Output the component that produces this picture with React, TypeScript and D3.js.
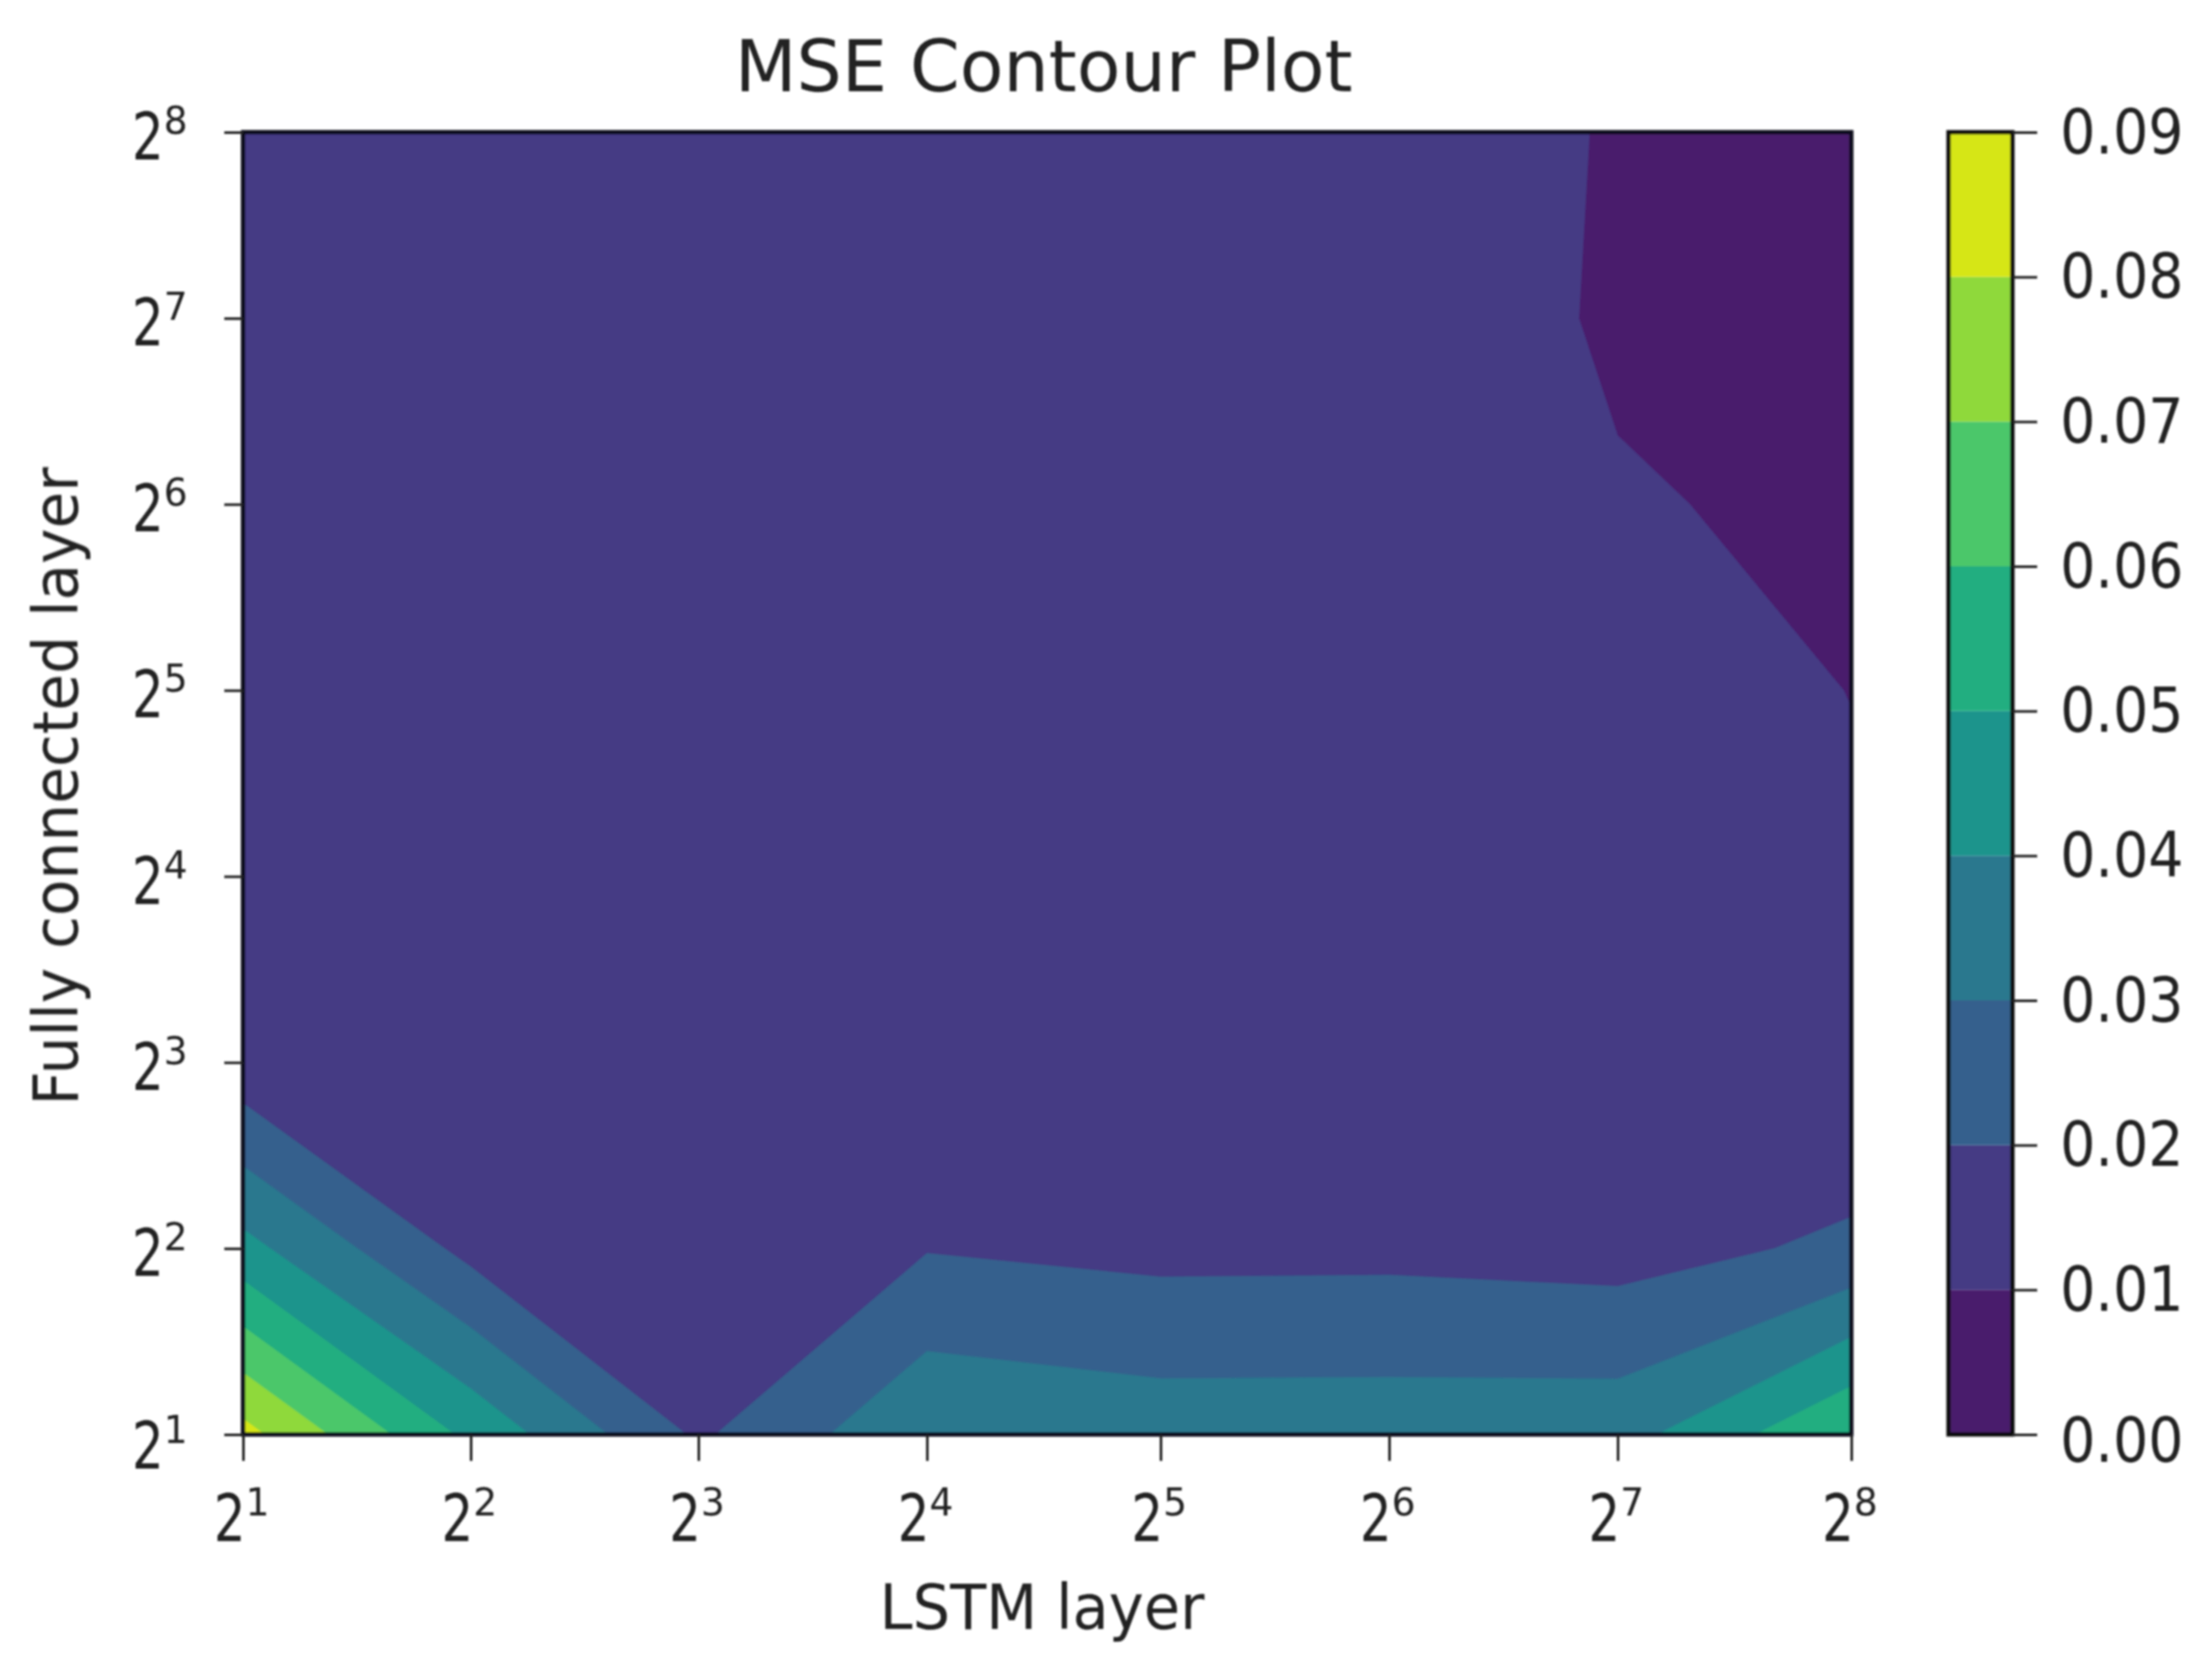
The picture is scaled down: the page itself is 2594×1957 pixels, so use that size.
import { useEffect, useRef } from 'react';
import * as d3 from 'd3';

// exponents of the 2^n ticks on both axes
const exponents = [1, 2, 3, 4, 5, 6, 7, 8];

// band edges of the contour plot and the colour of each band
const levels = [0, 0.01, 0.02, 0.03, 0.04, 0.05, 0.06, 0.07, 0.08, 0.09];
const bandColors = [
  '#481a6c', '#453a84', '#34618d', '#2a788e', '#1f948c',
  '#24ae80', '#4bc76b', '#8fd93a', '#d6e617',
];

// MSE per fully connected size (rows, 2^1 first) and LSTM size (columns)
const mseRows = [
  [0.0834, 0.0475, 0.0185, 0.0385, 0.0355, 0.0356, 0.036, 0.0598],
  [0.0431, 0.017, 0.0125, 0.0195, 0.0172, 0.0174, 0.0159, 0.022],
  [0.0135, 0.0125, 0.0122, 0.0128, 0.013, 0.0132, 0.013, 0.0102],
  [0.0128, 0.0124, 0.0122, 0.0125, 0.0128, 0.0128, 0.0124, 0.0105],
  [0.0128, 0.0125, 0.0124, 0.0126, 0.0127, 0.0126, 0.0115, 0.00995],
  [0.013, 0.0127, 0.0126, 0.0127, 0.0127, 0.0125, 0.0103, 0.00933],
  [0.013, 0.0128, 0.0127, 0.0128, 0.0127, 0.0125, 0.00949, 0.009],
  [0.0131, 0.0129, 0.0128, 0.0128, 0.0127, 0.0125, 0.00965, 0.0088],
];

const width = 2594;
const height = 1957;
const textColor = '#222';
const fontFamily = '"DejaVu Sans", sans-serif';

export default function App() {
  const svgRef = useRef<SVGSVGElement>(null);

  useEffect(() => {
    if (!svgRef.current) return;

    const svg = d3.select(svgRef.current);
    svg.selectAll('*').remove();

    const xScale = d3.scaleLinear()
      .domain(exponents)
      .range([285, 552, 819, 1087, 1361, 1629, 1897, 2171]);

    const yScale = d3.scaleLinear()
      .domain([1, 8])
      .range([1682, 155]);

    const barScale = d3.scaleLinear()
      .domain([0, 0.09])
      .range([1682, 155]);

    const [left, right] = [xScale(1), xScale(8)];
    const [bottom, top] = [yScale(1), yScale(8)];

    const defs = svg.append('defs');

    defs.append('clipPath')
      .attr('id', 'plot-clip')
      .append('rect')
      .attr('x', left)
      .attr('y', top)
      .attr('width', right - left)
      .attr('height', bottom - top);

    // The source picture is a soft upscaled bitmap
    defs.append('filter')
      .attr('id', 'soft')
      .attr('filterUnits', 'userSpaceOnUse')
      .attr('x', 0)
      .attr('y', 0)
      .attr('width', width)
      .attr('height', height)
      .append('feGaussianBlur')
      .attr('stdDeviation', 1.3);

    const root = svg.append('g').attr('filter', 'url(#soft)');

    // Contour bands, the grid cell centres sit on the tick positions
    const contours = d3.contours()
      .size([exponents.length, mseRows.length])
      .thresholds(levels.slice(0, -1))(mseRows.flat());

    const projection = d3.geoTransform({
      point(u, v) {
        this.stream.point(xScale(u + 0.5), yScale(v + 0.5));
      },
    });

    root.append('g')
      .attr('clip-path', 'url(#plot-clip)')
      .selectAll('path')
      .data(contours)
      .join('path')
      .attr('d', d3.geoPath(projection))
      .attr('fill', (_, i) => bandColors[i])
      .attr('stroke', (_, i) => bandColors[i])
      .attr('stroke-width', 0.5);

    root.append('rect')
      .attr('x', left)
      .attr('y', top)
      .attr('width', right - left)
      .attr('height', bottom - top)
      .attr('fill', 'none')
      .attr('stroke', '#0c0c1c')
      .attr('stroke-width', 5);

    // Axes, labels are added by hand because of the superscripts
    const xAxis = root.append('g')
      .attr('transform', `translate(0,${bottom})`)
      .call(d3.axisBottom(xScale).tickValues(exponents).tickSize(31).tickFormat(() => ''));

    const yAxis = root.append('g')
      .attr('transform', `translate(${left},0)`)
      .call(d3.axisLeft(yScale).tickValues(exponents).tickSize(22).tickFormat(() => ''));

    [xAxis, yAxis].forEach(axis => {
      axis.select('.domain').remove();
      axis.selectAll('line').attr('stroke', '#222').attr('stroke-width', 3);
    });

    // The base digit is squeezed in the source, the exponent is not
    const powerLabel = (x: number, y: number, exponent: number) => {
      const label = root.append('g')
        .attr('transform', `translate(${x},${y})`)
        .attr('font-family', fontFamily)
        .attr('fill', textColor);
      label.append('text')
        .attr('transform', 'scale(0.76,1)')
        .attr('x', 4)
        .attr('text-anchor', 'end')
        .attr('font-size', 77)
        .text('2');
      label.append('text')
        .attr('x', 3)
        .attr('y', -30)
        .attr('font-size', 44)
        .text(exponent);
    };

    exponents.forEach(e => {
      powerLabel(xScale(e), 1807, e);
      powerLabel(189, yScale(e) + (e === 1 ? 40 : 32), e);
    });

    // Colour bar
    const barLeft = 2285;
    const barRight = 2360;

    root.append('g')
      .selectAll('rect')
      .data(bandColors)
      .join('rect')
      .attr('x', barLeft)
      .attr('width', barRight - barLeft)
      .attr('y', (_, i) => barScale(levels[i + 1]))
      .attr('height', (_, i) => barScale(levels[i]) - barScale(levels[i + 1]))
      .attr('fill', d => d);

    root.append('rect')
      .attr('x', barLeft)
      .attr('y', barScale(0.09))
      .attr('width', barRight - barLeft)
      .attr('height', barScale(0) - barScale(0.09))
      .attr('fill', 'none')
      .attr('stroke', '#111')
      .attr('stroke-width', 5);

    const barAxis = root.append('g')
      .attr('transform', `translate(${barRight},0)`)
      .call(d3.axisRight(barScale).tickValues(levels).tickSize(29).tickFormat(d3.format('.2f')));

    barAxis.select('.domain').remove();
    barAxis.selectAll('line').attr('stroke', '#222').attr('stroke-width', 3);
    barAxis.selectAll<SVGTextElement, number>('text')
      .attr('x', null)
      .attr('dy', null)
      .attr('text-anchor', 'start')
      .attr('font-family', fontFamily)
      .attr('font-size', 73)
      .attr('fill', textColor)
      .attr('transform', d => `translate(56,${d === 0 ? 31 : 24}) scale(0.89,1)`);

    // Title and axis names
    root.append('text')
      .attr('transform', 'translate(1224,107) scale(1.01,1)')
      .attr('text-anchor', 'middle')
      .attr('font-family', fontFamily)
      .attr('font-size', 83)
      .attr('fill', textColor)
      .text('MSE Contour Plot');

    root.append('text')
      .attr('transform', 'translate(1222,1910) scale(0.95,1)')
      .attr('text-anchor', 'middle')
      .attr('font-family', fontFamily)
      .attr('font-size', 73)
      .attr('fill', textColor)
      .text('LSTM layer');

    root.append('text')
      .attr('transform', 'translate(91,922) rotate(-90) scale(0.96,1)')
      .attr('text-anchor', 'middle')
      .attr('font-family', fontFamily)
      .attr('font-size', 73)
      .attr('fill', textColor)
      .text('Fully connected layer');
  }, []);

  return (
    <svg
      ref={svgRef}
      width={width}
      height={height}
      style={{ position: 'absolute', left: 0, top: 0, background: '#fff' }}
    />
  );
}
